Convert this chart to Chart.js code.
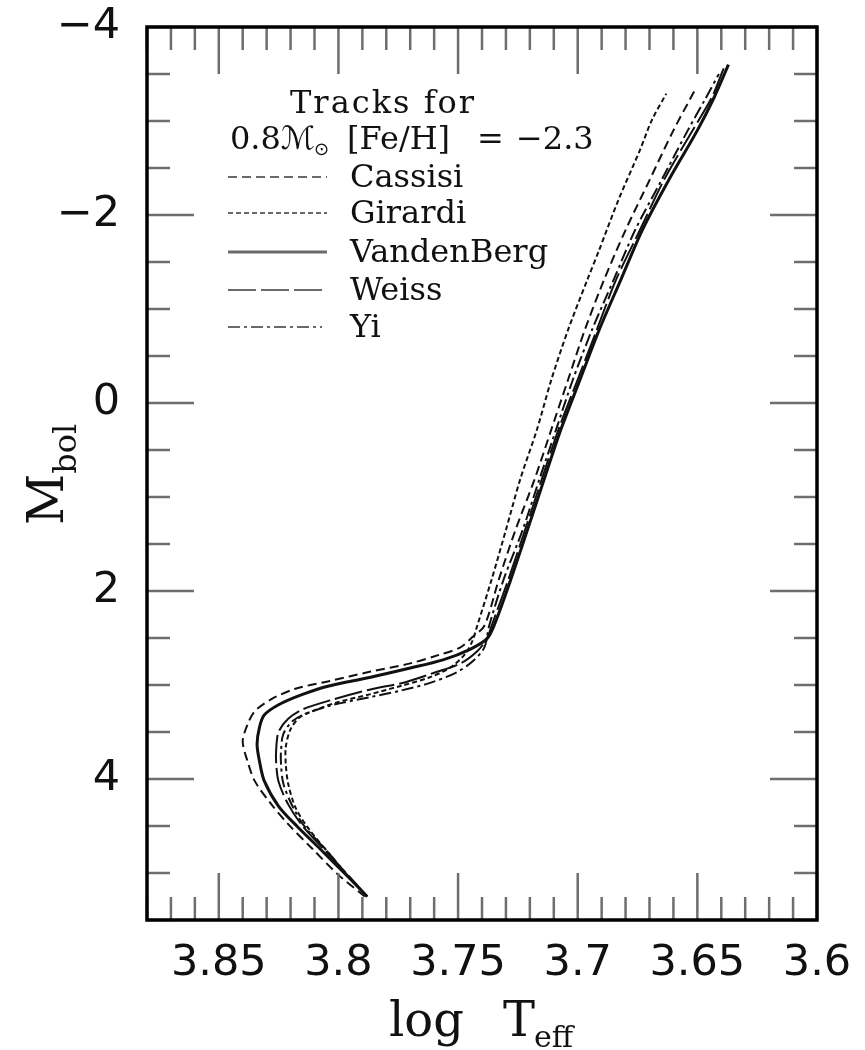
<!DOCTYPE html>
<html><head><meta charset="utf-8">
<script src="https://cdn.jsdelivr.net/npm/chart.js@4.4.1/dist/chart.umd.min.js"></script>
<style>html,body{margin:0;padding:0;background:#fff;}#wrap{position:relative;width:865px;height:1050px;}canvas{display:block;}</style>
</head><body><div id="wrap"><canvas id="c" width="865" height="1050"></canvas></div>
<script>
// ---- data ----
const models = ['Cassisi', 'Girardi', 'VandenBerg', 'Weiss', 'Yi'];

const cassisiLogT = [3.789,3.800,3.811,3.821,3.828,3.835,3.838,3.840,3.838,3.835,3.828,3.818,3.804,3.787,3.770,3.758,3.749,3.744,3.739,3.733,3.726,3.718,3.711,3.704,3.697,3.689,3.680,3.670,3.660,3.651];
const cassisiMbol = [5.25,5.02,4.74,4.48,4.27,4.02,3.81,3.60,3.42,3.28,3.15,3.04,2.96,2.86,2.77,2.68,2.60,2.49,2.37,1.88,1.35,0.81,0.28,-0.25,-0.78,-1.31,-1.84,-2.37,-2.90,-3.33];

const girardiLogT = [3.788,3.795,3.805,3.813,3.818,3.821,3.822,3.822,3.820,3.816,3.809,3.800,3.787,3.774,3.762,3.753,3.747,3.744,3.742,3.736,3.730,3.724,3.717,3.711,3.704,3.696,3.691,3.683,3.674,3.669,3.663];
const girardiMbol = [5.25,5.06,4.76,4.51,4.30,4.05,3.84,3.66,3.47,3.34,3.26,3.18,3.10,3.01,2.92,2.81,2.67,2.53,2.37,1.88,1.35,0.81,0.28,-0.25,-0.78,-1.31,-1.63,-2.16,-2.69,-3.01,-3.29];

const vandenbergLogT = [3.788,3.796,3.807,3.817,3.825,3.831,3.833,3.834,3.833,3.831,3.825,3.815,3.804,3.787,3.770,3.756,3.745,3.738,3.735,3.728,3.721,3.714,3.707,3.699,3.691,3.682,3.673,3.662,3.650,3.643,3.637];
const vandenbergMbol = [5.25,5.04,4.76,4.51,4.29,4.02,3.81,3.63,3.45,3.32,3.21,3.10,3.01,2.92,2.82,2.73,2.62,2.51,2.37,1.88,1.35,0.81,0.28,-0.25,-0.78,-1.31,-1.84,-2.37,-2.90,-3.25,-3.60];

const weissLogT = [3.788,3.795,3.806,3.815,3.821,3.825,3.826,3.826,3.825,3.821,3.815,3.803,3.787,3.772,3.760,3.749,3.742,3.738,3.736,3.729,3.722,3.715,3.708,3.700,3.692,3.684,3.674,3.664,3.652,3.644,3.639];
const weissMbol = [5.25,5.05,4.75,4.50,4.27,4.03,3.84,3.68,3.50,3.36,3.26,3.16,3.05,2.97,2.87,2.77,2.64,2.51,2.37,1.88,1.35,0.81,0.28,-0.25,-0.78,-1.31,-1.84,-2.37,-2.90,-3.25,-3.56];

const yiLogT = [3.788,3.795,3.805,3.814,3.819,3.823,3.824,3.824,3.823,3.819,3.812,3.802,3.787,3.774,3.762,3.751,3.744,3.739,3.737,3.731,3.723,3.716,3.709,3.702,3.694,3.685,3.676,3.665,3.654,3.647,3.641];
const yiMbol = [5.25,5.06,4.76,4.51,4.30,4.05,3.84,3.70,3.52,3.38,3.29,3.21,3.13,3.06,2.98,2.87,2.75,2.60,2.37,1.88,1.35,0.81,0.28,-0.25,-0.78,-1.31,-1.84,-2.37,-2.90,-3.22,-3.50];

const xTickValues = [3.85, 3.8, 3.75, 3.7, 3.65, 3.6];
const xTickLabels = ['3.85', '3.8', '3.75', '3.7', '3.65', '3.6'];
const yTickValues = [-4, -2, 0, 2, 4];
const yTickLabels = ['\u22124', '\u22122', '0', '2', '4'];
const xMinorStep = 0.01;
const yMinorStep = 0.5;

const legendTitle = 'Tracks for';
const legendSubtitle = ['0.8', '\u2133', '\u2299', '[Fe/H]', '=', '\u22122.3'];
const xTitle = ['log', 'T', 'eff'];
const yTitle = ['M', 'bol'];

// ---- chart ----
function pts(t, m) { return t.map((v, i) => ({ x: v, y: m[i] })); }
const INK = '#111';
const datasets = [
  { label: models[0], data: pts(cassisiLogT, cassisiMbol), borderDash: [9, 5], borderWidth: 2 },
  { label: models[1], data: pts(girardiLogT, girardiMbol), borderDash: [5, 3], borderWidth: 2 },
  { label: models[2], data: pts(vandenbergLogT, vandenbergMbol), borderDash: [], borderWidth: 3 },
  { label: models[3], data: pts(weissLogT, weissMbol), borderDash: [28, 5], borderWidth: 2 },
  { label: models[4], data: pts(yiLogT, yiMbol), borderDash: [12, 4, 3, 4], borderWidth: 2 }
].map(d => Object.assign(d, { showLine: true, pointRadius: 0, borderColor: INK, tension: 0.3, fill: false }));

const frame = {
  id: 'frame',
  afterDraw(chart) {
    const { ctx, chartArea: a, scales: { x, y } } = chart;
    ctx.save();
    const line = (x1, y1, x2, y2) => { ctx.beginPath(); ctx.moveTo(x1, y1); ctx.lineTo(x2, y2); ctx.stroke(); };
    // tick marks (inward, all four sides)
    ctx.strokeStyle = '#6e6e6e'; ctx.lineWidth = 2.5; ctx.setLineDash([]);
    const MIN = 23, MAJ = 47;
    const isMajorX = v => xTickValues.some(t => Math.abs(t - v) < 1e-6);
    for (let v = x.min; v <= x.max + 1e-9; v += xMinorStep) {
      const vv = Math.round(v * 100) / 100;
      const px = x.getPixelForValue(vv);
      const L = isMajorX(vv) ? MAJ : MIN;
      line(px, a.top, px, a.top + L);
      line(px, a.bottom, px, a.bottom - L);
    }
    const isMajorY = v => yTickValues.some(t => Math.abs(t - v) < 1e-6);
    for (let v = y.min; v <= y.max + 1e-9; v += yMinorStep) {
      const py = y.getPixelForValue(v);
      const L = isMajorY(v) ? MAJ : MIN;
      line(a.left, py, a.left + L, py);
      line(a.right, py, a.right - L, py);
    }
    // frame
    ctx.strokeStyle = '#000'; ctx.lineWidth = 3.5;
    ctx.strokeRect(a.left, a.top, a.right - a.left, a.bottom - a.top);

    // legend
    ctx.fillStyle = INK;
    ctx.textBaseline = 'alphabetic';
    ctx.textAlign = 'left';
    ctx.font = '32px "DejaVu Serif"';
    ctx.letterSpacing = '2px';
    ctx.fillText(legendTitle, 290, 113);
    ctx.letterSpacing = '0px';
    ctx.fillText(legendSubtitle[0], 230, 149);
    ctx.font = 'italic 32px "DejaVu Serif", "DejaVu Sans"';
    ctx.fillText(legendSubtitle[1], 281, 149);
    ctx.font = '18px "DejaVu Sans"';
    ctx.fillText(legendSubtitle[2], 314, 155);
    ctx.font = '32px "DejaVu Serif"';
    ctx.fillText(legendSubtitle[3], 347, 149);
    ctx.fillText(legendSubtitle[4], 477, 149);
    ctx.fillText(legendSubtitle[5], 516, 149);
    const rowY = [177, 213, 252, 290, 327];
    chart.data.datasets.forEach((ds, i) => {
      ctx.strokeStyle = '#6a6a6a';
      ctx.lineWidth = ds.borderWidth === 3 ? 3 : 2.2;
      ctx.setLineDash(ds.borderDash || []);
      line(228, rowY[i], i === 4 ? 322 : 327, rowY[i]);
      ctx.setLineDash([]);
      ctx.fillStyle = INK;
      ctx.font = '32px "DejaVu Serif"';
      ctx.fillText(ds.label, 350, rowY[i] + 10);
    });

    // axis titles
    ctx.fillStyle = INK;
    ctx.font = '48px "DejaVu Serif"';
    ctx.fillText(xTitle[0], 389, 1036);
    ctx.fillText(xTitle[1], 503, 1036);
    const tw = ctx.measureText(xTitle[1]).width;
    ctx.font = '30px "DejaVu Serif"';
    ctx.fillText(xTitle[2], 503 + tw - 1, 1047);

    ctx.translate(63, 525);
    ctx.rotate(-Math.PI / 2);
    ctx.font = '50px "DejaVu Serif"';
    ctx.fillText(yTitle[0], 0, 0);
    const mw = ctx.measureText(yTitle[0]).width;
    ctx.font = '32px "DejaVu Serif"';
    ctx.fillText(yTitle[1], mw, 13);
    ctx.restore();
  }
};

new Chart(document.getElementById('c'), {
  type: 'scatter',
  data: { datasets },
  options: {
    responsive: false,
    devicePixelRatio: 1,
    animation: false,
    layout: { padding: { top: 27, right: 48, left: 0, bottom: 0 } },
    plugins: { legend: { display: false }, tooltip: { enabled: false } },
    scales: {
      x: {
        type: 'linear', min: 3.6, max: 3.88, reverse: true, position: 'bottom',
        grid: { display: false, drawTicks: false }, border: { display: false },
        afterBuildTicks: s => { s.ticks = xTickValues.map(v => ({ value: v })); },
        afterFit: s => { s.height = 130; s.paddingLeft = 0; s.paddingRight = 0; },
        ticks: {
          autoSkip: false, maxRotation: 0, padding: 18, color: INK,
          font: { family: 'DejaVu Sans', size: 43 },
          callback: (v, i) => xTickLabels[i]
        }
      },
      y: {
        type: 'linear', min: -4, max: 5.5, reverse: true, position: 'left',
        grid: { display: false, drawTicks: false }, border: { display: false },
        afterBuildTicks: s => { s.ticks = yTickValues.map(v => ({ value: v })); },
        afterFit: s => { s.width = 147; s.paddingTop = 0; s.paddingBottom = 0; },
        ticks: {
          autoSkip: false, padding: 27, color: INK,
          font: { family: 'DejaVu Sans', size: 43 },
          callback: (v, i) => yTickLabels[i]
        }
      }
    }
  },
  plugins: [frame]
});
</script>
</body></html>
